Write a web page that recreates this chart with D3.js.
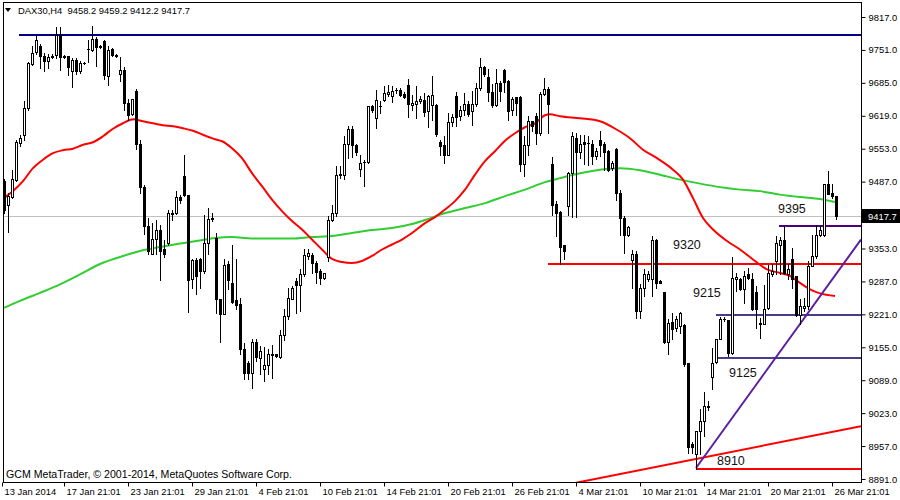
<!DOCTYPE html>
<html><head><meta charset="utf-8">
<script src="https://cdn.jsdelivr.net/npm/d3@7/dist/d3.min.js"></script>
<style>
body{margin:0;background:#fff}
svg{display:block}
text{font-family:"Liberation Sans",Arial,sans-serif}
</style>
</head><body>
<svg id="chart" width="900" height="500"></svg>
<script>
// ---------------- DATA ----------------
const symbolTitle = "DAX30,H4";
const footerText = "GCM MetaTrader, \u00A9 2001-2014, MetaQuotes Software Corp.";

const opens = [9488,9441,9456,9490,9564,9581,9634,9722,9746,9758,9739,9728,9739,9740,9780,9739,9739,9709,9731,9708,
9724,9752,9751,9773,9759,9769,9698,9753,9741,9702,9711,9644,9622,9669,9563,9476,9398,9342,9372,9391,
9351,9364,9423,9424,9456,9499,9461,9291,9329,9331,9308,9364,9413,9374,9252,9221,9321,9283,9250,9241,
9152,9123,9104,9166,9134,9111,9119,9140,9141,9136,9180,9218,9252,9288,9279,9302,9338,9340,9324,9308,
9294,9336,9411,9424,9501,9501,9563,9593,9561,9512,9526,9526,9639,9614,9638,9651,9663,9658,9670,9670,
9663,9681,9641,9643,9648,9650,9628,9641,9641,9566,9560,9541,9606,9658,9618,9631,9642,9628,9642,9674,
9716,9696,9666,9640,9684,9711,9688,9631,9656,9656,9522,9561,9608,9619,9584,9662,9673,9522,9442,9426,
9360,9438,9504,9574,9546,9566,9564,9562,9538,9571,9562,9548,9514,9552,9464,9414,9381,9329,9341,9228,
9274,9291,9291,9371,9287,9266,9166,9206,9194,9198,9199,9123,8961,8941,8988,9008,9036,9096,9126,9171,
9212,9209,9144,9292,9292,9271,9301,9292,9266,9204,9201,9234,9301,9328,9361,9371,9301,9332,9298,9219,
9234,9238,9318,9338,9381,9381,9483,9464,9458.2];
const highs = [9492,9464,9510,9571,9581,9649,9726,9758,9778,9762,9744,9742,9742,9796,9796,9741,9739,9734,9734,9728,
9726,9771,9799,9776,9760,9771,9758,9754,9742,9736,9716,9653,9653,9673,9571,9481,9414,9404,9411,9401,
9371,9431,9430,9468,9460,9541,9461,9331,9334,9334,9421,9434,9424,9384,9252,9331,9328,9361,9332,9254,
9164,9128,9171,9172,9158,9156,9152,9159,9142,9190,9232,9274,9278,9294,9312,9351,9351,9343,9328,9311,
9304,9418,9441,9518,9518,9578,9599,9598,9563,9541,9531,9639,9641,9670,9648,9678,9681,9679,9674,9674,
9667,9692,9661,9678,9659,9664,9661,9698,9642,9571,9578,9624,9622,9666,9638,9664,9648,9668,9684,9734,
9718,9713,9682,9713,9688,9713,9691,9656,9657,9658,9578,9618,9609,9624,9666,9694,9676,9536,9449,9428,
9361,9506,9586,9584,9581,9581,9578,9571,9554,9588,9566,9551,9529,9554,9471,9418,9398,9349,9348,9281,
9311,9308,9378,9372,9290,9266,9212,9224,9218,9226,9201,9123,8966,8988,9031,9066,9048,9154,9172,9216,
9216,9210,9336,9304,9294,9308,9314,9304,9278,9214,9279,9319,9321,9378,9376,9398,9321,9354,9298,9251,
9254,9328,9381,9401,9398,9483,9508,9483,9459.2];
const lows = [9425,9386,9454,9488,9558,9571,9630,9720,9742,9714,9708,9714,9734,9734,9711,9734,9700,9676,9702,9704,
9722,9726,9748,9718,9755,9693,9681,9738,9737,9689,9631,9611,9621,9553,9464,9382,9341,9341,9341,9289,
9336,9361,9410,9422,9444,9458,9226,9274,9262,9274,9304,9341,9408,9224,9166,9221,9271,9244,9231,9141,
9092,9091,9074,9128,9101,9088,9101,9094,9135,9134,9170,9212,9251,9224,9228,9298,9332,9304,9283,9281,
9292,9328,9408,9418,9494,9492,9534,9536,9541,9499,9479,9524,9626,9594,9624,9648,9658,9646,9664,9659,
9654,9616,9631,9614,9644,9619,9596,9611,9578,9541,9524,9541,9598,9598,9611,9621,9618,9601,9638,9671,
9698,9649,9636,9638,9648,9666,9611,9620,9620,9508,9498,9541,9588,9562,9581,9661,9584,9421,9378,9322,
9331,9420,9416,9416,9534,9522,9521,9522,9533,9538,9511,9508,9511,9451,9381,9344,9378,9274,9214,9214,
9258,9288,9258,9274,9283,9164,9142,9171,9188,9184,9118,8944,8944,8911,8941,8978,9030,9071,9124,9171,
9208,9138,9141,9268,9270,9243,9291,9230,9194,9174,9201,9232,9298,9301,9301,9301,9291,9274,9218,9201,
9228,9231,9318,9334,9379,9379,9463,9454,9412.2];
const closes = [9431,9458,9492,9566,9574,9634,9724,9744,9771,9738,9728,9736,9736,9780,9736,9736,9716,9731,9708,9724,
9724.5,9752.5,9773,9756,9756,9700,9751,9740,9738,9711,9644,9621,9653,9562,9476,9398,9348,9372,9391,9348,
9341,9424,9424,9456,9450,9460,9289,9329,9298,9308,9364,9412,9414,9252,9221,9319,9290,9246,9240,9151,
9104,9104,9166,9136,9148,9119,9141,9141,9138,9180,9218,9254,9274,9279,9302,9339,9343,9323,9306,9294,
9303,9411,9424,9501,9501.5,9563,9593,9561,9546,9524,9526.5,9639,9631,9651,9639,9664,9666,9668,9670.5,9661,
9656,9643,9644,9648,9652,9626,9658,9660,9583,9558,9541,9606,9616,9616,9631,9642,9622,9642,9674,9716,
9702,9666,9640,9684,9668,9686,9628,9653,9644,9522,9561,9608,9598,9584,9662,9673,9642,9441,9424,9356,
9348,9504,9578,9546,9562,9562,9565,9538,9548,9560,9546,9511,9524,9464,9414,9381,9396,9341,9228,9274,
9301,9301,9371,9284,9284,9166,9204,9191,9212,9223,9121,8956,8955,8988,9008,9038,9036.5,9124,9171,9211,
9212.5,9144,9294,9296,9271,9298,9294,9232,9232,9201,9232,9304,9308,9364,9371,9304,9311,9291,9219,9238,
9238,9318,9338,9381,9390,9483,9463,9458,9417.7];

const xTickBars = [-0.5,15,31,47,63,79,95,111,127,143,159,175,191,207];
const xTickLabels = ["13 Jan 2014","17 Jan 21:01","23 Jan 21:01","29 Jan 21:01","4 Feb 21:01","10 Feb 21:01",
  "14 Feb 21:01","20 Feb 21:01","26 Feb 21:01","4 Mar 21:01","10 Mar 21:01","14 Mar 21:01","20 Mar 21:01","26 Mar 21:01"];
const yTickValues = [9817,9751,9685,9619,9553,9487,9353,9287,9221,9155,9089,9023,8957,8891];
const lastPrice = 9417.7;

// moving averages (bar index, price)
const redMaBars = [0,2.25,4.75,7.25,9.75,12.25,14.75,17.25,19.75,22.25,24.75,27.25,29.75,32.25,34.75,37.25,39.75,42.25,44.75,47.25,49.75,52.75,
  54.5,57,59.5,62,64.5,67,69.5,72,74.5,77,79.5,82,84.5,87,89.5,92,94.5,97,99.5,102,105.25,107.75,110.25,112.75,115.25,117.75,120.25,122.75,
  125.25,127.75,130.25,132.75,135.25,136.5,139,144,149,153.25,156.5,159.75,163.25,167.25,169.75,172.25,174.75,177.25,180.75,184,187.25,
  190.75,194,196.5,199,201.5,204,207.75];
const redMaValues = [9454,9468,9488,9514,9531,9544,9550,9553,9561,9566,9578,9593,9604,9612,9608,9604,9600,9598,9594,9589,9581,9572,
  9568,9554,9534,9504,9478,9451,9428,9408,9391,9371,9351,9332,9326,9324,9328,9338,9351,9361,9371,9384,9404,9416,9431,9448,9471,9501,9528,9548,
  9569,9584,9596,9604,9620,9622,9618,9614,9608,9591,9574,9551,9534,9511,9491,9454,9414,9391,9368,9351,9331,
  9311,9304,9298,9284,9271,9263,9258];
const greenMaBars = [0,4,9,14,19,24,29,34,39,44,49,52.75,57,62,67,72,77,82,87,92,97,102,105.25,110.25,115.25,120.25,125.25,130.25,135.25,
  139,144,149,154,159,164,169,174,179,184,189,194,199,204,207.75];
const greenMaValues = [9234,9248,9264,9281,9301,9322,9336,9348,9356,9363,9369,9374,9376,9373,9373,9373,9376,9378,9384,9390,9394,9402,9410,9424,9434,9444,9458,9471,9486,
  9494,9504,9511,9514,9510,9501,9491,9483,9476,9471,9468,9461,9456,9452,9446];

// horizontal levels (price, first bar)
const levelPrices = [9780, 9321, 9399, 9220, 9133, 8912];
const levelStartBars = [3.75, 136, 193.75, 178, 178, 173];
// trend lines (two anchor points each: bar index, price)
const redTrendBars = [149, 208];
const redTrendPrices = [8893, 8987];
const purpleTrendBars = [173, 209.75];
const purpleTrendPrices = [8913, 9321];
// text objects
const labelTexts = ["9395","9320","9215","9125","8910"];
const labelBars = [193.5, 167.25, 172.25, 181.25, 178.25];
const labelPrices = [9425, 9351, 9255, 9095, 8919];

// ---------------- DRAW ----------------
const W = 900, H = 500;
const plot = {left: 3, top: 2, right: 861, bottom: 482};
const svg = d3.select("#chart");
const x = d3.scaleLinear().domain([0, 208]).range([4, 836]);
const y = d3.scaleLinear().domain([8891, 9817]).range([479, 17]);
const xEnd = x.invert(plot.right);

svg.append("rect").attr("width", W).attr("height", H).attr("fill", "#fff");
svg.append("defs").append("clipPath").attr("id", "clip")
  .append("rect").attr("x", plot.left).attr("y", plot.top)
  .attr("width", plot.right - plot.left).attr("height", plot.bottom - plot.top);

const g = svg.append("g").attr("clip-path", "url(#clip)");

// current price line
g.append("line").attr("x1", plot.left).attr("x2", plot.right)
  .attr("y1", Math.round(y(lastPrice)) + 0.5).attr("y2", Math.round(y(lastPrice)) + 0.5)
  .attr("stroke", "#c0c0c0").attr("stroke-width", 1);

// moving averages
const line = d3.line().x(d => x(d[0])).y(d => y(d[1])).curve(d3.curveMonotoneX);
g.append("path").datum(greenMaBars.map((b, i) => [b, greenMaValues[i]]))
  .attr("d", line).attr("fill", "none").attr("stroke", "#32cd32").attr("stroke-width", 2);
g.append("path").datum(redMaBars.map((b, i) => [b, redMaValues[i]]))
  .attr("d", line).attr("fill", "none").attr("stroke", "#ff0000").attr("stroke-width", 2);

// horizontal levels
const levelColors = ["#000080", "#ff0000", "#4b0082", "#483d8b", "#483d8b", "#ff0000"];
levelPrices.forEach((p, i) => {
  const yy = Math.round(y(p));
  g.append("line").attr("x1", x(levelStartBars[i])).attr("x2", plot.right)
    .attr("y1", yy).attr("y2", yy).attr("stroke", levelColors[i]).attr("stroke-width", 2);
});

// trend lines extended to right edge
function ray(bars, prices, color) {
  const slope = (prices[1] - prices[0]) / (bars[1] - bars[0]);
  const pEnd = prices[0] + slope * (xEnd - bars[0]);
  g.append("line").attr("x1", x(bars[0])).attr("y1", y(prices[0]))
    .attr("x2", x(xEnd)).attr("y2", y(pEnd))
    .attr("stroke", color).attr("stroke-width", 2);
}
function rayBoth(bars, prices, color) {
  const slope = (prices[1] - prices[0]) / (bars[1] - bars[0]);
  const b0 = bars[0] - 20;
  g.append("line").attr("x1", x(b0)).attr("y1", y(prices[0] + slope * (b0 - bars[0])))
    .attr("x2", x(xEnd)).attr("y2", y(prices[0] + slope * (xEnd - bars[0])))
    .attr("stroke", color).attr("stroke-width", 2);
}
rayBoth(redTrendBars, redTrendPrices, "#ff0000");
ray(purpleTrendBars, purpleTrendPrices, "#5b1e9e");

// candles
const candles = g.append("g");
opens.forEach((o, i) => {
  const c = closes[i], hi = highs[i], lo = lows[i];
  const cx = Math.round(x(i));
  const yh = Math.round(y(hi)), yl = Math.round(y(lo));
  const yTop = Math.round(y(Math.max(o, c))), yBot = Math.round(y(Math.min(o, c)));
  candles.append("rect").attr("x", cx).attr("y", yh).attr("width", 1)
    .attr("height", Math.max(1, yl - yh + 1)).attr("fill", "#000");
  if (yBot - yTop < 1) {
    candles.append("rect").attr("x", cx - 1).attr("y", yTop).attr("width", 3).attr("height", 1).attr("fill", "#000");
  } else if (c > o) {
    candles.append("rect").attr("x", cx - 0.5).attr("y", yTop + 0.5).attr("width", 2)
      .attr("height", yBot - yTop).attr("fill", "#fff").attr("stroke", "#000").attr("stroke-width", 1);
  } else {
    candles.append("rect").attr("x", cx - 1).attr("y", yTop).attr("width", 3)
      .attr("height", yBot - yTop + 1).attr("fill", "#000");
  }
});

// text objects
labelTexts.forEach((t, i) => {
  g.append("text").attr("x", x(labelBars[i])).attr("y", y(labelPrices[i]))
    .attr("font-size", 12.5).attr("fill", "#111").text(t);
});

// header & footer
svg.append("path").attr("d", "M5,8 L11,8 L8,12 Z").attr("fill", "#000");
svg.append("text").attr("x", 18).attr("y", 14).attr("font-size", 9.4).attr("fill", "#000")
  .attr("xml:space", "preserve")
  .text(symbolTitle + "  " + [opens[208], highs[208], lows[208], closes[208]].map(d3.format(".1f")).join(" "));
svg.append("text").attr("x", 6).attr("y", 478).attr("font-size", 10.6).attr("fill", "#000").text(footerText);

// frame
svg.append("rect").attr("x", plot.left + 0.5).attr("y", plot.top + 0.5)
  .attr("width", plot.right - plot.left).attr("height", plot.bottom - plot.top)
  .attr("fill", "none").attr("stroke", "#000");

// y axis
const yAxis = svg.append("g").attr("transform", `translate(${plot.right + 0.5},0)`)
  .call(d3.axisRight(y).tickValues(yTickValues).tickFormat(d3.format(".1f")).tickSize(4).tickPadding(3));
yAxis.select(".domain").remove();
yAxis.selectAll("text").attr("font-size", 9.4).attr("font-family", "Liberation Sans, Arial, sans-serif").attr("fill", "#000");

// current price tag
const yp = Math.round(y(lastPrice));
svg.append("rect").attr("x", plot.right + 1).attr("y", yp - 7).attr("width", 38).attr("height", 14).attr("fill", "#000");
svg.append("text").attr("x", plot.right + 7).attr("y", yp + 3.5).attr("font-size", 9.4).attr("fill", "#fff").text(d3.format(".1f")(lastPrice));

// x axis
const xAxis = svg.append("g").attr("transform", `translate(0,${plot.bottom + 0.5})`)
  .call(d3.axisBottom(x).tickValues(xTickBars).tickFormat((d, i) => xTickLabels[i]).tickSize(4).tickPadding(2));
xAxis.select(".domain").remove();
xAxis.selectAll("text").attr("text-anchor", "start").attr("dx", "2")
  .attr("font-size", 9.4).attr("font-family", "Liberation Sans, Arial, sans-serif").attr("fill", "#000");
</script>
</body></html>
